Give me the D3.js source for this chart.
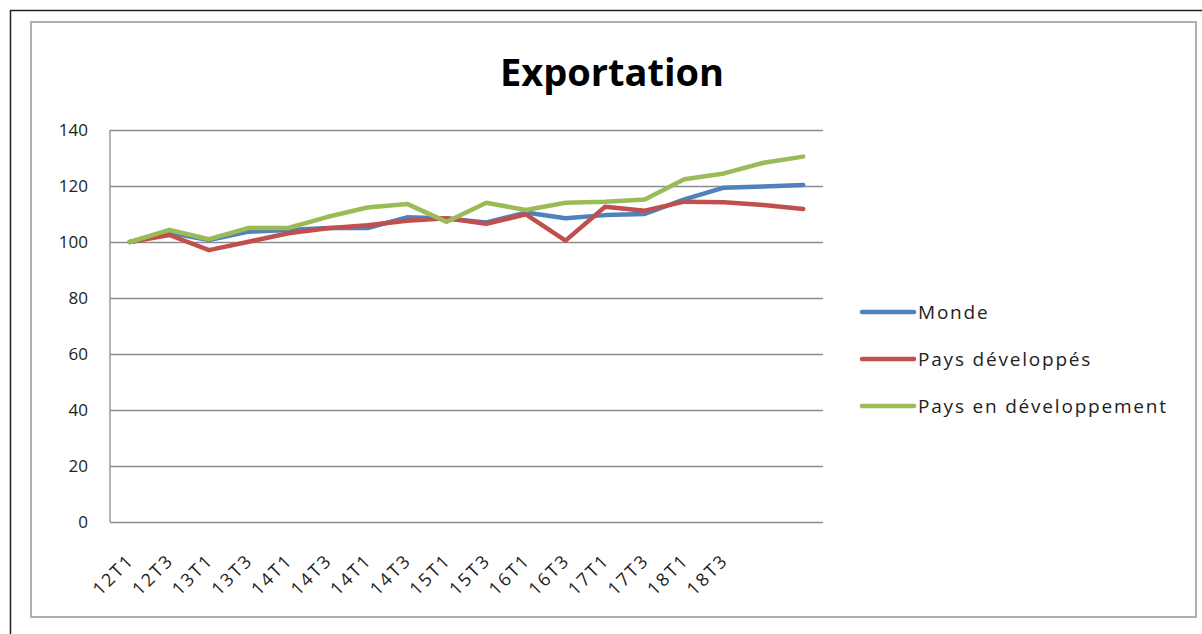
<!DOCTYPE html>
<html lang="fr">
<head>
  <meta charset="utf-8">
  <title>Exportation</title>
  <script src="https://cdn.jsdelivr.net/npm/d3@7/dist/d3.min.js"></script>
  <style>
    body { margin: 0; background: #fff; }
    svg { display: block; font-family: "Open Sans", "DejaVu Sans", sans-serif; }
  </style>
</head>
<body>
  <svg id="chart" width="1202" height="634"></svg>
  <script>
    // categories (last two have no label in the source sheet)
    var categories = ['12T1', '12T3', '13T1', '13T3', '14T1', '14T3', '14T1', '14T3', '15T1',
      '15T3', '16T1', '16T3', '17T1', '17T3', '18T1', '18T3', '', '']

    var monde = [100, 103.3, 100.7, 103.7, 104.3, 105, 105, 108.8, 108.4, 107,
      110.5, 108.5, 109.6, 110, 115.2, 119.4, 119.8, 120.4]
    var developpes = [100, 102.5, 97.1, 100.1, 103.1, 104.9, 106, 107.6, 108.5, 106.5,
      109.9, 100.5, 112.6, 111.2, 114.4, 114.2, 113.2, 111.8]
    var enDeveloppement = [100, 104.3, 101, 105, 105, 109, 112.3, 113.6, 107.2, 114,
      111.4, 114, 114.4, 115.2, 122.4, 124.5, 128.3, 130.5]

    var seriesNames = ['Monde', 'Pays développés', 'Pays en développement']
    var seriesColors = ['#4F81BD', '#C0504D', '#9BBB59']
    var yTicks = [0, 20, 40, 60, 80, 100, 120, 140]

    var svg = d3.select('#chart')

    // screenshot frame + chart area border
    svg.append('line').attr('x1', 10).attr('x2', 1202).attr('y1', 10.5).attr('y2', 10.5)
      .attr('stroke', '#222').attr('stroke-width', 1.5)
    svg.append('line').attr('x1', 10.5).attr('x2', 10.5).attr('y1', 10).attr('y2', 634)
      .attr('stroke', '#222').attr('stroke-width', 1.5)
    svg.append('rect').attr('x', 31).attr('y', 22).attr('width', 1165).attr('height', 595)
      .attr('fill', 'none').attr('stroke', '#b0b0b0').attr('stroke-width', 2)

    // plot area (window.top is reserved, so no bare "top")
    var plotLeft = 110, plotRight = 823, plotTop = 130, plotBottom = 522

    var x = d3.scaleBand().domain(d3.range(categories.length)).range([plotLeft, plotRight])
    var y = d3.scaleLinear().domain([0, 140]).range([plotBottom, plotTop])

    // gridlines
    svg.append('g')
      .attr('transform', 'translate(' + plotLeft + ',0)')
      .call(d3.axisLeft(y).tickValues(yTicks).tickSize(-(plotRight - plotLeft)).tickFormat(''))
      .call(function(g) {
        g.select('.domain').remove()
        g.selectAll('line').attr('stroke', '#8c8c8c').attr('stroke-width', 1.3)
      })

    // y labels
    svg.append('g').selectAll('text')
      .data(yTicks).enter().append('text')
      .attr('x', 88).attr('y', function(d) { return y(d) })
      .attr('dy', '0.35em').attr('text-anchor', 'end')
      .attr('font-size', 17).attr('fill', '#222')
      .text(function(d) { return d })

    // y axis line
    svg.append('line').attr('x1', plotLeft).attr('x2', plotLeft).attr('y1', plotTop).attr('y2', plotBottom)
      .attr('stroke', '#8c8c8c').attr('stroke-width', 1.3)

    // x labels, end of text centred on the category
    svg.append('g').selectAll('text')
      .data(categories).enter().append('text')
      .attr('transform', function(d, i) {
        return 'translate(' + (x(i) + x.bandwidth() / 2 + 1) + ',557) rotate(-45)'
      })
      .attr('text-anchor', 'end').attr('dy', '0.35em')
      .attr('font-size', 18).attr('letter-spacing', 2.2).attr('fill', '#222')
      .text(function(d) { return d })

    // lines
    var line = d3.line()
      .x(function(d, i) { return x(i) + x.bandwidth() / 2 })
      .y(function(d) { return y(d) })

    var allSeries = [monde, developpes, enDeveloppement]
    allSeries.forEach(function(s, k) {
      svg.append('path').datum(s)
        .attr('d', line)
        .attr('fill', 'none')
        .attr('stroke', seriesColors[k])
        .attr('stroke-width', 4.5)
        .attr('stroke-linejoin', 'round')
        .attr('stroke-linecap', 'round')
    })

    // title
    svg.append('text').attr('x', 612).attr('y', 86)
      .attr('text-anchor', 'middle').attr('font-size', 38).attr('font-weight', 'bold')
      .attr('fill', '#000').text('Exportation')

    // legend
    var legend = svg.append('g').selectAll('g')
      .data(seriesNames).enter().append('g')
      .attr('transform', function(d, i) { return 'translate(862,' + (312 + i * 47) + ')' })
    legend.append('line').attr('x1', 0).attr('x2', 52)
      .attr('stroke', function(d, i) { return seriesColors[i] })
      .attr('stroke-width', 4.5).attr('stroke-linecap', 'round')
    legend.append('text').attr('x', 56).attr('dy', '0.35em')
      .attr('font-size', 19).attr('letter-spacing', 1.8).attr('fill', '#222')
      .text(function(d) { return d })
  </script>
</body>
</html>
